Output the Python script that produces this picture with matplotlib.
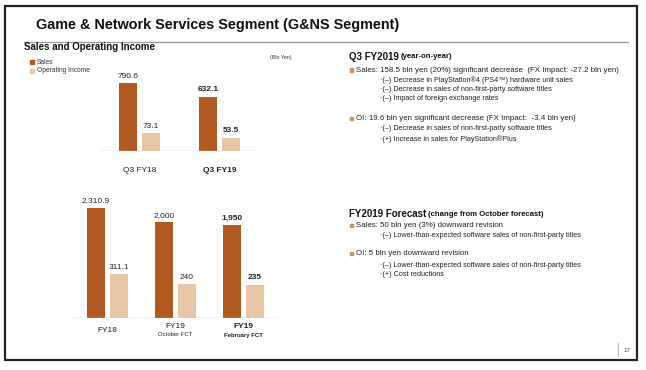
import matplotlib
matplotlib.use("Agg")
import matplotlib.pyplot as plt
from matplotlib.patches import Rectangle
from matplotlib.lines import Line2D

plt.rcParams['font.family'] = ['Liberation Sans', 'DejaVu Sans']

# ---- data ----
q_categories = ["Q3 FY18", "Q3 FY19"]
q_sales = [790.6, 632.1]
q_oi = [73.1, 53.5]
q_sales_labels = ["790.6", "632.1"]
q_oi_labels = ["73.1", "53.5"]
q_bold = [False, True]

fy_categories = ["FY18", "FY19", "FY19"]
fy_subs = ["", "October FCT", "February FCT"]
fy_sales = [2310.9, 2000, 1950]
fy_oi = [311.1, 240, 235]
fy_sales_labels = ["2,310.9", "2,000", "1,950"]
fy_oi_labels = ["311.1", "240", "235"]
fy_bold = [False, False, True]

SALES_C = "#B05A22"
OI_C = "#E9C6A5"
BULLET_C = "#C69361"

W, H = 646, 370
fig = plt.figure(figsize=(W / 100, H / 100), dpi=100)


def fx(x):
    return x / W


def fy(y):
    return 1 - y / H


def txt(x, y, s, **kw):
    kw.setdefault('va', 'center')
    kw.setdefault('ha', 'left')
    fig.text(fx(x), fy(y), s, **kw)


# frame
fig.add_artist(Rectangle((fx(5), fy(360)), fx(637 - 5), (360 - 6) / H,
                         fill=False, ec="#222222", lw=1.6, transform=fig.transFigure))
# title
txt(36, 25, "Game & Network Services Segment (G&NS Segment)", fontsize=10.4,
    fontweight='bold', color="#111111")
fig.add_artist(Line2D([fx(24), fx(628)], [fy(42), fy(42)], color="#9a9a9a", lw=0.9,
                      transform=fig.transFigure))

txt(24, 47, "Sales and Operating Income", fontsize=7, fontweight='bold', color="#111111")
# legend
for yy, c, lab in [(62, SALES_C, "Sales"), (71, OI_C, "Operating Income")]:
    fig.add_artist(Rectangle((fx(30), fy(yy + 2)), 4 / W, 4 / H, color=c,
                             transform=fig.transFigure))
    txt(37, yy, lab, fontsize=4.8, color="#333333")
txt(281, 58, "(Bln Yen)", fontsize=3.8, color="#333333", ha='center')


def make_chart(x0, x1, ybase, ytop, centers_px, spacing, sales_scale, oi_scale,
               sales, oi, slabels, olabels, bold, cats, subs, cat_y, lab_fs):
    ax = fig.add_axes([fx(x0), fy(ybase), fx(x1 - x0), (ybase - ytop) / H])
    ax2 = ax.twinx()
    n = len(sales)
    pos = list(range(n))
    left = -(centers_px[0] - x0) / spacing
    right = (n - 1) + (x1 - centers_px[-1]) / spacing
    bw = 18 / spacing
    off = 11.5 / spacing
    hpx = ybase - ytop
    for a in (ax, ax2):
        a.set_xlim(left, right)
        a.axis('off')
    ax.set_ylim(0, hpx / sales_scale)
    ax2.set_ylim(0, hpx / oi_scale)
    ax.bar([p - off for p in pos], sales, width=bw, color=SALES_C)
    ax2.bar([p + off for p in pos], oi, width=bw, color=OI_C)
    ax.axhline(0, color="#bdbdbd", lw=1.0)
    for p, v, s, b in zip(pos, sales, slabels, bold):
        ax.annotate(s, (p - off, v), xytext=(0, 2.5), textcoords='offset points',
                    ha='center', va='bottom', fontsize=lab_fs,
                    fontweight='bold' if b else 'normal', color="#222222")
    for p, v, s, b in zip(pos, oi, olabels, bold):
        ax2.annotate(s, (p + off, v), xytext=(0, 2.5), textcoords='offset points',
                     ha='center', va='bottom', fontsize=lab_fs,
                     fontweight='bold' if b else 'normal', color="#222222")
    for c, cat, sub, b in zip(centers_px, cats, subs, bold):
        if sub:
            txt(c, cat_y - 3.5, cat, fontsize=6, ha='center',
                fontweight='bold' if b else 'normal', color="#222222")
            txt(c, cat_y + 5, sub, fontsize=4.3, ha='center',
                fontweight='bold' if b else 'normal', color="#222222")
        else:
            txt(c, cat_y, cat, fontsize=6, ha='center',
                fontweight='bold' if b else 'normal', color="#222222")


make_chart(100, 258, 151, 60, [139.5, 219.5], 80, 67.7 / 790.6, 18 / 73.1,
           q_sales, q_oi, q_sales_labels, q_oi_labels, q_bold,
           q_categories, ["", ""], 170, 6)
make_chart(73, 278, 317.7, 190, [107.5, 175.5, 243.5], 68, 110 / 2310.9, 43.7 / 311.1,
           fy_sales, fy_oi, fy_sales_labels, fy_oi_labels, fy_bold,
           fy_categories, fy_subs, 330, 6)

# right side text
BODY = 5.65
SUB = 5.2


def heading(y, main, extra):
    t = fig.text(fx(349), fy(y), main, fontsize=7, fontweight='bold', va='center',
                 ha='left', color="#111111")
    fig.canvas.draw()
    bb = t.get_window_extent()
    fig.text((bb.x1 + 2) / W, fy(y), extra, fontsize=5.6, fontweight='bold',
             va='center', ha='left', color="#111111")


def bullet(y, s):
    fig.add_artist(Rectangle((fx(349.5), fy(y + 1.7)), 3.4 / W, 3.4 / H, color=BULLET_C,
                             transform=fig.transFigure))
    txt(356.5, y, s, fontsize=BODY, color="#222222")


def sub(y, s):
    txt(380, y, s, fontsize=SUB, color="#222222")


heading(56.5, "Q3 FY2019", "(year-on-year)")
bullet(70, "Sales: 158.5 bln yen (20%) significant decrease  (FX Impact: -27.2 bln yen)")
sub(80.5, "·(–) Decrease in PlayStation®4 (PS4™) hardware unit sales")
sub(89.5, "·(–) Decrease in sales of non-first-party software titles")
sub(98.7, "·(–) Impact of foreign exchange rates")
bullet(118.7, "OI: 19.6 bln yen significant decrease (FX Impact:  -3.4 bln yen)")
sub(128.5, "·(–) Decrease in sales of non-first-party software titles")
sub(139, "·(+) Increase in sales for PlayStation®Plus")

heading(214, "FY2019 Forecast", "(change from October forecast)")
bullet(225.3, "Sales: 50 bln yen (3%) downward revision")
sub(235.7, "·(–) Lower-than-expected software sales of non-first-party titles")
bullet(253.3, "OI: 5 bln yen downward revision")
sub(265.3, "·(–) Lower-than-expected software sales of non-first-party titles")
sub(275, "·(+) Cost reductions")

fig.add_artist(Line2D([fx(618), fx(618)], [fy(343), fy(356)], color="#bbbbbb", lw=0.8,
                      transform=fig.transFigure))
txt(627, 350, "17", fontsize=4.5, color="#444444", ha='center')

fig.savefig("out.png", dpi=100)
